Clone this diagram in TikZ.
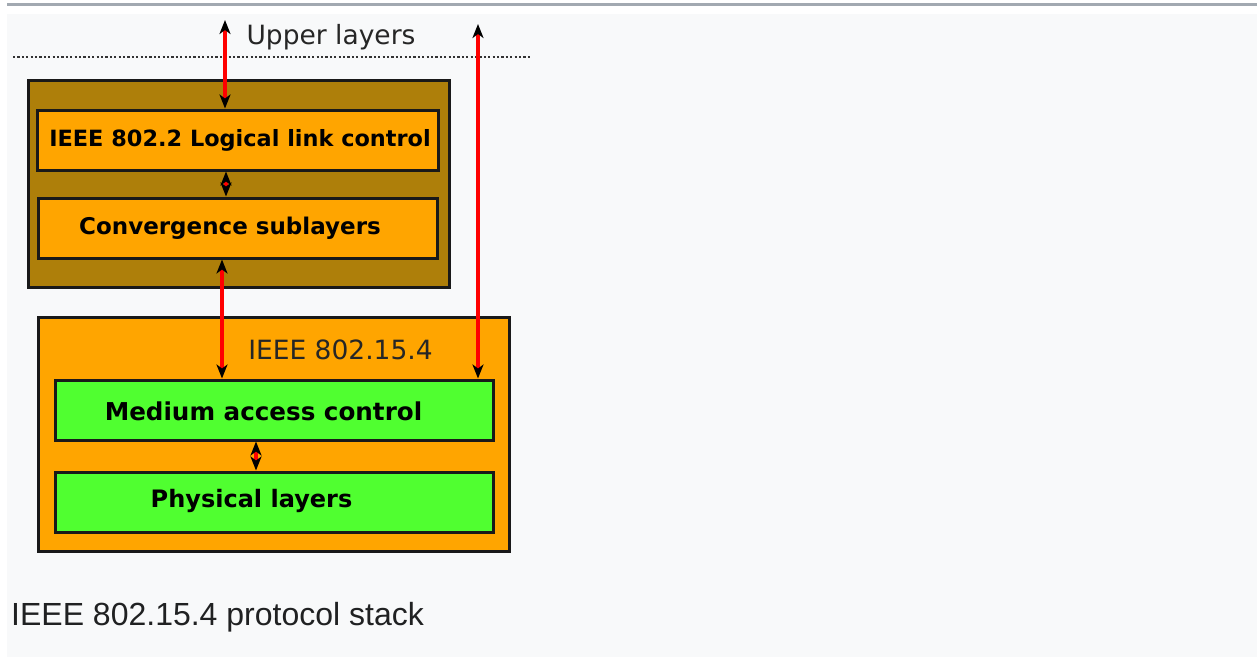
\documentclass[tikz,border=0pt]{standalone}
\usepackage{fontspec}
\setmainfont{DejaVu Sans}
\newfontfamily\capfont{Liberation Sans}
\usetikzlibrary{arrows.meta}
\definecolor{pagebg}{HTML}{F8F9FA}
\definecolor{rule}{HTML}{A2A9B1}
\definecolor{brownbox}{RGB}{174,127,10}
\definecolor{orangebox}{HTML}{FFA500}
\definecolor{greenbox}{RGB}{80,255,48}
\definecolor{captext}{HTML}{202122}
\tikzset{
  layerbox/.style={draw=black!90, line width=3pt, inner sep=0pt, rectangle},
  boldlabel/.style={font=\fontsize{#1}{28}\selectfont\bfseries, inner sep=0pt},
  plainlabel/.style={font=\fontsize{26.5}{30}\selectfont, text=black!85, inner sep=0pt},
  redarrow/.style={draw=red, line width=3.5pt, {Stealth[black,length=14pt,width=11pt,inset=4pt]}-{Stealth[black,length=14pt,width=11pt,inset=4pt]}},
}
\begin{document}
\begin{tikzpicture}[x=1pt,y=-1pt]
\useasboundingbox (0,0) rectangle (1257,657);
\fill[white] (0,0) rectangle (1257,657);
\fill[pagebg] (7,14) rectangle (1257,657);
\fill[rule] (7,3) rectangle (1257,5.5);
% dotted separator
\coordinate (dotl) at (13,57);
\coordinate (dotr) at (530,57);
\draw[black!80, line width=2.6pt, dash pattern=on 2.2pt off 2.2pt] (dotl) -- (dotr);
\node[plainlabel] (upper) at (331,37) {Upper layers};
% upper stack
\node[layerbox, fill=brownbox, minimum width=421pt, minimum height=207pt] (brown) at (238.5,183.5) {};
\node[layerbox, fill=orangebox, minimum width=401pt, minimum height=60pt] (llc) at (237.5,140) {};
\node[boldlabel=22.4] (llct) at (240,140) {IEEE 802.2 Logical link control};
\node[layerbox, fill=orangebox, minimum width=399pt, minimum height=60pt] (conv) at (237.5,228) {};
\node[boldlabel=23] (convt) at (230,228) {Convergence sublayers};
% 802.15.4
\node[layerbox, fill=orangebox, minimum width=471pt, minimum height=234pt] (ieee) at (273.5,434) {};
\node[plainlabel] (ieeet) at (340.5,350) {IEEE 802.15.4};
\node[layerbox, fill=greenbox, minimum width=438pt, minimum height=60pt] (mac) at (274,410) {};
\node[boldlabel=24.6] (mact) at (263.5,411) {Medium access control};
\node[layerbox, fill=greenbox, minimum width=438pt, minimum height=60pt] (phy) at (274,502) {};
\node[boldlabel=24] (phyt) at (251.5,501) {Physical layers};
% arrows
\coordinate (a1) at (225,20);
\coordinate (a2) at (478,24);
\coordinate (a3) at (222,0);
\coordinate (a4) at (226,0);
\coordinate (a5) at (256,0);
\draw[redarrow] (a1) -- (llc.north -| a1);
\draw[redarrow] (a2) -- (mac.north -| a2);
\draw[redarrow] (conv.south -| a3) -- (mac.north -| a3);
\draw[redarrow] (llc.south -| a4) -- (conv.north -| a4);
\draw[redarrow] (mac.south -| a5) -- (phy.north -| a5);
% caption
\node[font=\capfont\fontsize{32}{36}\selectfont, text=captext, anchor=west, inner sep=0pt] (cap) at (11,617) {IEEE 802.15.4 protocol stack};
\end{tikzpicture}
\end{document}
